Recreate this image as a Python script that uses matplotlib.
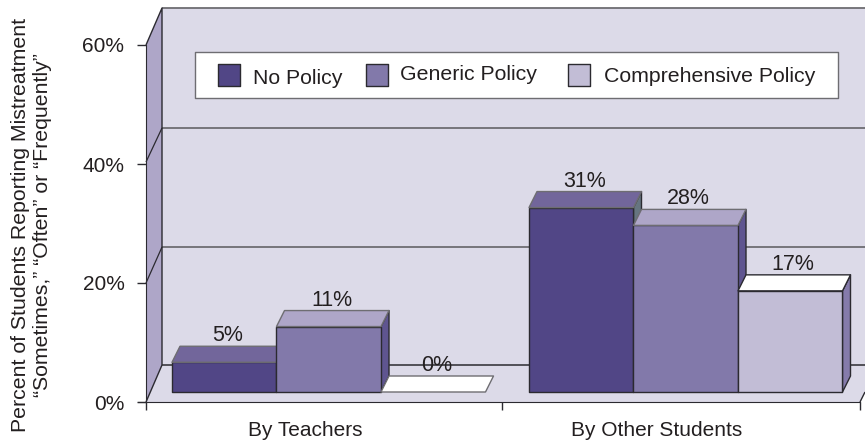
import matplotlib
matplotlib.use('Agg')
import matplotlib.pyplot as plt
from matplotlib.patches import Polygon

plt.rcParams['font.family'] = ['Liberation Sans', 'DejaVu Sans']

categories = ['By Teachers', 'By Other Students']
series_names = ['No Policy', 'Generic Policy', 'Comprehensive Policy']
no_policy = [5, 31]
generic_policy = [11, 28]
comprehensive_policy = [0, 17]
y_ticks = [0, 20, 40, 60]

front_colors = ['#514686', '#8279aa', '#c2bdd6']
top_colors = ['#72669b', '#aea6c8', '#ffffff']
side_colors = ['#667580', '#5f5590', '#857bab']
wall_color = '#dcdae8'
side_wall_color = '#aea6c8'
line_color = '#6e6d72'
dark = '#2b2a30'
text_color = '#231f20'

W, H = 865, 446
x0, group_w = 146.0, 356.0   # pixels of category 0 and width of one category
y0, px_per_pct = 402.0, 5.95 # pixels of 0% and pixels per percent


# pixel -> data, the walls and legend sit at fixed places on the page
def X(px):
    return (px - x0) / group_w


def Y(py):
    return (y0 - py) / px_per_pct


fig = plt.figure(figsize=(W / 100, H / 100), dpi=100)
ax = fig.add_axes([0, 0, 1, 1])
ax.set_xlim(X(0), X(W))
ax.set_ylim(Y(H), Y(0))
ax.patch.set_visible(False)


def poly(pts, fc, ec=dark, lw=1.0, z=2):
    ax.add_patch(Polygon([(X(a), Y(b)) for a, b in pts], closed=True, fc=fc, ec=ec, lw=lw, zorder=z,
                         joinstyle='round'))


def line(pts, color=line_color, lw=1.3, z=2):
    ax.plot([X(a) for a, b in pts], [Y(b) for a, b in pts], color=color, lw=lw, zorder=z,
            solid_capstyle='butt')


# walls and floor
poly([(162, 8), (865, 8), (865, 365), (162, 365)], wall_color, ec='none', z=1)
poly([(146, 402), (162, 365), (865, 365), (865, 392), (860, 402)], wall_color, ec='none', z=1)
poly([(146, 45), (162, 8), (162, 365), (146, 402)], side_wall_color, ec='none', z=1)
line([(162, 8), (865, 8)])
line([(162, 128), (865, 128)])
line([(162, 247), (865, 247)])
line([(162, 365), (865, 365)], color=dark, lw=1.1)
line([(146, 45), (162, 8), (162, 365)], color=dark, lw=1.0)
line([(146, 402), (162, 365)], color=dark, lw=1.0)
line([(146, 162), (162, 128)], color=dark, lw=0.9)
line([(146, 283), (162, 247)], color=dark, lw=0.9)
line([(860, 402), (865, 392)], color=dark, lw=1.0)

# bars, left to right so each one hides the side of the previous
base = 392
bar_w = 104.5
dx, dy = 8, 16
starts = [172, 529]
values = [no_policy, generic_policy, comprehensive_policy]
for g in range(len(categories)):
    for s in range(len(series_names)):
        v = values[s][g]
        left = starts[g] + s * bar_w
        right = left + bar_w
        top = base - v * px_per_pct
        if v > 0:
            poly([(right, top), (right + dx, top - dy), (right + dx, base - dy), (right, base)], side_colors[s], z=3 + s)
            poly([(left, base), (right, base), (right, top), (left, top)], front_colors[s], z=3 + s)
        poly([(left, top), (right, top), (right + dx, top - dy), (left + dx, top - dy)], top_colors[s], ec=line_color if v == 0 or s < 2 else dark, z=3 + s)
        ax.text(X((left + right) / 2 + 3), Y(top - dy - 10.5), '%d%%' % v, ha='center', va='center',
                fontsize=15.5, color=text_color, zorder=10)

# legend
poly([(195, 52), (838, 52), (838, 98), (195, 98)], 'white', ec=line_color, lw=1.0, z=6)
swatch_x = [218, 366, 568]
text_x = [253, 400, 604]
text_y = [78, 75, 76]
for s in range(3):
    poly([(swatch_x[s], 64), (swatch_x[s] + 22, 64), (swatch_x[s] + 22, 86), (swatch_x[s], 86)],
         front_colors[s], ec=dark, lw=1.0, z=7)
    ax.text(X(text_x[s]), Y(text_y[s]), series_names[s], ha='left', va='center', fontsize=15.3,
            color=text_color, zorder=7)

# axes
ax.spines['top'].set_visible(False)
ax.spines['right'].set_visible(False)
ax.spines['left'].set_position(('data', 0))
ax.spines['bottom'].set_position(('data', 0))
ax.spines['left'].set_bounds(0, 60)
ax.spines['bottom'].set_bounds(X(138), X(860))
ax.spines['left'].set_color(dark)
ax.spines['bottom'].set_color(dark)
ax.spines['left'].set_zorder(5)
ax.spines['bottom'].set_zorder(5)
ax.set_yticks(y_ticks)
ax.set_yticklabels(['%d%%' % t for t in y_ticks], fontsize=15, color=text_color)
ax.tick_params(axis='y', length=6.5, width=1, color=dark, pad=9)
ax.set_xticks([0, 1, X(860)])
ax.set_xticklabels(['', '', ''])
ax.tick_params(axis='x', which='major', length=6, width=1, color=dark)
ax.set_xticks([X(305), X(657)], minor=True)
ax.set_xticklabels(categories, minor=True, fontsize=15, color=text_color)
ax.tick_params(axis='x', which='minor', length=0, pad=13.5)

ax.text(X(32), Y(225), 'Percent of Students Reporting Mistreatment\n\u201cSometimes,\u201d \u201cOften\u201d or \u201cFrequently\u201d',
        rotation=90, ha='center', va='center', multialignment='center', fontsize=15.3, color=text_color, linespacing=1.2)

fig.savefig('out.png', dpi=100, facecolor='white')
